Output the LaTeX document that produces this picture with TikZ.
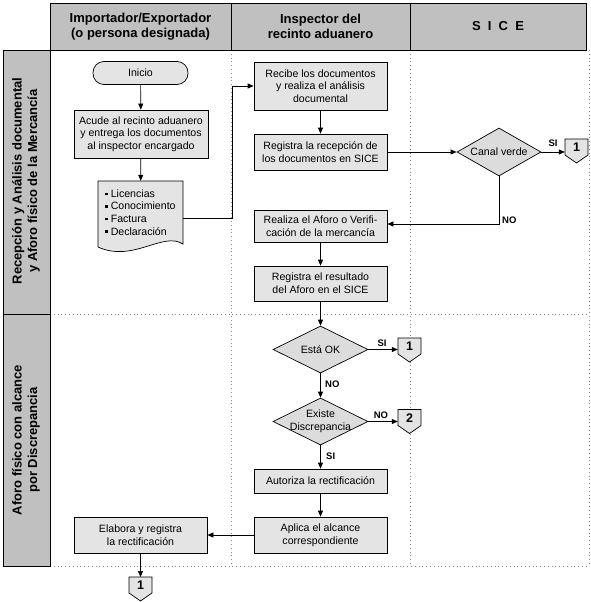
\documentclass[tikz,border=0pt]{standalone}
\usepackage{fontspec}
\setmainfont{Liberation Sans}
\usetikzlibrary{shapes.geometric,arrows.meta,calc}
\definecolor{hdrgray}{HTML}{C0C0C0}
\definecolor{boxfill}{HTML}{E4E4E4}
\definecolor{decfill}{HTML}{DCDCDC}
\definecolor{dotgray}{HTML}{8C8C8C}
\newcommand\myoffpage[3]{%
  \draw[offs] ($(#2)+(-11.5,0)$) -- ++(23,0) -- ++(0,16) -- ++(-11.5,8) -- ++(-11.5,-8) -- cycle;
  \node[offn, anchor=north] (#1) at (#2) {#3};}
\newcommand\mybul{\raisebox{2.2pt}{\rule{2.6pt}{2.6pt}}\hspace{2.8pt}}
\begin{document}
\begin{tikzpicture}[x=1pt,y=-1pt,
  bodyfont/.style={font=\fontsize{10.6}{12.6}\selectfont},
  proc/.style={draw, line width=0.7pt, fill=boxfill, minimum width=133pt, inner sep=1pt, align=center, bodyfont},
  term/.style={draw, line width=0.7pt, fill=boxfill, minimum width=95pt, minimum height=23pt, rounded corners=11pt, inner sep=1pt, bodyfont},
  dec/.style={diamond, draw, line width=0.7pt, fill=decfill, inner sep=0pt},
  txt/.style={inner sep=0pt, align=center, bodyfont},
  lbl/.style={inner sep=0pt, font=\bfseries\fontsize{9.5}{10}\selectfont},
  arr/.style={-{Triangle[length=6pt,width=5pt]}},
  conn/.style={draw, line width=0.7pt},
  gridline/.style={dotgray, line width=0.8pt, dash pattern=on 0.8pt off 3pt},
  hdr/.style={draw, fill=hdrgray, line width=0.8pt},
  hdrtxt/.style={inner sep=0pt, align=center, font=\bfseries\fontsize{13}{15.6}\selectfont},
  offs/.style={draw, fill=boxfill, line width=0.7pt},
  offn/.style={inner sep=0pt, minimum width=23pt, minimum height=16pt, font=\bfseries\fontsize{12.5}{12.5}\selectfont},
]
\useasboundingbox (0,0) rectangle (591,602);
\fill[white] (0,0) rectangle (591,602);

% grid (dotted)
\draw[gridline] (231,50) -- (231,566);
\draw[gridline] (410,50) -- (410,566);
\draw[gridline] (589,50) -- (589,566);
\draw[gridline] (50,314) -- (589,314);
\draw[gridline] (50,566) -- (589,566);

% header
\draw[hdr] (50,3) rectangle (231,50);
\draw[hdr] (231,3) rectangle (410,50);
\draw[hdr] (410,3) rectangle (586,50);
\node[hdrtxt] (h1) at (140.5,26.5) {Importador/Exportador\\(o persona designada)};
\node[hdrtxt] (h2) at (320.5,26.5) {Inspector del\\recinto aduanero};
\node[hdrtxt] (h3) at (498,26.5) {S\hspace{7.2pt}I\hspace{7.2pt}C\hspace{7.2pt}E};

% lanes
\draw[hdr] (3,50) rectangle (50,314);
\draw[hdr] (3,314) rectangle (50,566);
\node[hdrtxt, rotate=90] (l1) at (26,181) {Recepción y Análisis documental\\y Aforo físico de la Mercancía};
\node[hdrtxt, rotate=90] (l2) at (26,440) {Aforo físico con alcance\\por Discrepancia};

% column 1
\node[term] (ini) at (140.5,73) {Inicio};
\node[proc, minimum width=134pt, minimum height=48pt] (acu) at (141,134) {Acude al recinto aduanero\\y entrega los documentos\\al inspector encargado};
\draw[offs] (98,181) -- (183,181) -- (183,244) .. controls (163,231) and (133,263) .. (98,247) -- cycle;
\node[inner sep=0pt, minimum width=85pt, minimum height=63pt, align=left, bodyfont] (doc) at (140.5,212.5)
  {\mybul Licencias\\\mybul Conocimiento\\\mybul Factura\\\mybul Declaración};
\node[proc, minimum height=36pt] (ela) at (140.5,535) {Elabora y registra\\la rectificación};
\myoffpage{op1c}{140.5,577}{1}

% column 2
\node[proc, minimum height=48pt] (rec) at (320.5,86) {Recibe los documentos\\y realiza el análisis\\documental};
\node[proc, minimum height=36pt] (reg) at (320.5,152) {Registra la recepción de\\los documentos en SICE};
\node[proc, minimum height=32pt] (afo) at (320.5,226) {Realiza el Aforo o Verifi-\\cación de la mercancía};
\node[proc, minimum height=35pt] (res) at (320.5,283.5) {Registra el resultado\\del Aforo en el SICE};
\node[dec, minimum width=95pt, minimum height=47pt] (ok) at (320.5,349.5) {};
\node[txt] (okt) at (ok) {Está OK};
\node[dec, minimum width=95pt, minimum height=47pt] (ex) at (320.5,421.5) {};
\node[txt] (ext) at (ex) {Existe\\Discrepancia};
\node[proc, minimum height=24pt] (aut) at (320.5,481) {Autoriza la rectificación};
\node[proc, minimum height=36pt] (apl) at (320.5,535) {Aplica el alcance\\correspondiente};
\myoffpage{op1b}{409.5,338}{1}
\myoffpage{op2}{409.5,409.5}{2}

% column 3
\node[dec, minimum width=84pt, minimum height=48pt] (cv) at (499,152) {};
\node[txt] (cvt) at (cv) {Canal verde};
\myoffpage{op1a}{576.5,139}{1}

% connectors
\draw[conn, arr] (ini) -- (acu);
\draw[conn, arr] (acu) -- (doc);
\coordinate (j1) at (232,218);
\draw[conn, arr] (doc.east |- j1) -- (j1) |- (rec.west);
\draw[conn, arr] (rec) -- (reg);
\draw[conn, arr] (reg) -- (cv);
\draw[conn, arr] (cv.east) -- (cv.east -| op1a.west);
\node[lbl, anchor=south] (siA) at (553,147) {SI};
\coordinate (j2) at (499,224);
\draw[conn, arr] (cv.south) -- (j2) -- (j2 -| afo.east);
\node[lbl, anchor=south west] (noA) at (502,224) {NO};
\draw[conn, arr] (afo) -- (res);
\draw[conn, arr] (res) -- (ok);
\draw[conn, arr] (ok.east) -- (ok.east -| op1b.west);
\node[lbl, anchor=south] (siB) at (382,347) {SI};
\draw[conn, arr] (ok) -- (ex);
\node[lbl, anchor=west] (noB) at (325,384) {NO};
\draw[conn, arr] (ex.east) -- (ex.east -| op2.west);
\node[lbl, anchor=south] (noC) at (381,419) {NO};
\draw[conn, arr] (ex) -- (aut);
\node[lbl, anchor=west] (siC) at (326,456) {SI};
\draw[conn, arr] (aut) -- (apl);
\draw[conn, arr] (apl) -- (ela);
\draw[conn, arr] (ela) -- (op1c);
\end{tikzpicture}
\end{document}
